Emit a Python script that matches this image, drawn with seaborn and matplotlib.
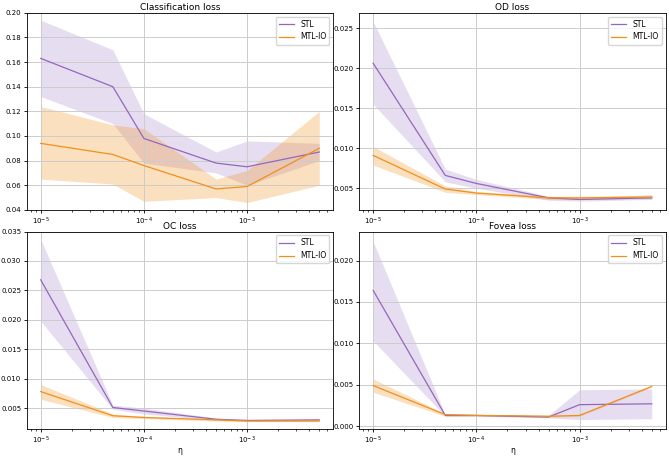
import numpy as np
import pandas as pd
import seaborn as sns
import matplotlib
matplotlib.use('Agg')
import matplotlib.pyplot as plt

eta = [1e-5, 5e-5, 1e-4, 5e-4, 1e-3, 5e-3]

# classification loss
cls_stl = [0.163, 0.140, 0.098, 0.078, 0.075, 0.087]
cls_stl_lo = [0.132, 0.110, 0.078, 0.070, 0.060, 0.080]
cls_stl_hi = [0.194, 0.170, 0.118, 0.087, 0.096, 0.094]
cls_mtl = [0.094, 0.085, 0.076, 0.057, 0.059, 0.090]
cls_mtl_lo = [0.065, 0.061, 0.047, 0.050, 0.046, 0.060]
cls_mtl_hi = [0.124, 0.109, 0.106, 0.065, 0.072, 0.120]

# OD loss
od_stl = [0.0206, 0.0066, 0.0056, 0.0038, 0.0036, 0.0038]
od_stl_lo = [0.0155, 0.0058, 0.0050, 0.0035, 0.0034, 0.0036]
od_stl_hi = [0.0258, 0.0074, 0.0061, 0.0040, 0.0038, 0.0042]
od_mtl = [0.0091, 0.0049, 0.0044, 0.0038, 0.0038, 0.0039]
od_mtl_lo = [0.0079, 0.0045, 0.0042, 0.0036, 0.0036, 0.0037]
od_mtl_hi = [0.0102, 0.0053, 0.0046, 0.0040, 0.0040, 0.0041]

# OC loss
oc_stl = [0.0268, 0.0051, 0.0045, 0.0031, 0.0029, 0.0030]
oc_stl_lo = [0.0198, 0.0048, 0.0040, 0.0029, 0.0028, 0.0029]
oc_stl_hi = [0.0337, 0.0055, 0.0050, 0.0033, 0.0030, 0.0031]
oc_mtl = [0.0078, 0.0037, 0.0034, 0.0030, 0.0028, 0.0028]
oc_mtl_lo = [0.0065, 0.0034, 0.0032, 0.0028, 0.0027, 0.0027]
oc_mtl_hi = [0.0090, 0.0040, 0.0036, 0.0031, 0.0030, 0.0029]

# fovea loss
fov_stl = [0.0164, 0.0013, 0.0013, 0.0011, 0.0026, 0.0027]
fov_stl_lo = [0.0103, 0.0012, 0.0012, 0.0010, 0.0008, 0.0009]
fov_stl_hi = [0.0223, 0.0014, 0.0014, 0.0013, 0.0044, 0.0045]
fov_mtl = [0.0049, 0.0014, 0.0013, 0.0012, 0.0013, 0.0048]
fov_mtl_lo = [0.0041, 0.0012, 0.0012, 0.0011, 0.0012, 0.0047]
fov_mtl_hi = [0.0057, 0.0015, 0.0014, 0.0013, 0.0014, 0.0049]

panels = [
    ('Classification loss', cls_stl, cls_stl_lo, cls_stl_hi, cls_mtl, cls_mtl_lo, cls_mtl_hi),
    ('OD loss', od_stl, od_stl_lo, od_stl_hi, od_mtl, od_mtl_lo, od_mtl_hi),
    ('OC loss', oc_stl, oc_stl_lo, oc_stl_hi, oc_mtl, oc_mtl_lo, oc_mtl_hi),
    ('Fovea loss', fov_stl, fov_stl_lo, fov_stl_hi, fov_mtl, fov_mtl_lo, fov_mtl_hi),
]

c_stl = '#9467bd'
c_mtl = '#f0901a'

plt.rcParams['font.size'] = 5
plt.rcParams['axes.linewidth'] = 0.6

fig, axes = plt.subplots(2, 2, figsize=(6.69, 4.57), dpi=100)
fig.subplots_adjust(left=0.04, right=0.995, top=0.972, bottom=0.062, wspace=0.085, hspace=0.11)

for i, (title, s, slo, shi, m, mlo, mhi) in enumerate(panels):
    ax = axes.flat[i]
    df = pd.DataFrame({'eta': eta * 2, 'loss': s + m,
                       'model': ['STL'] * 6 + ['MTL-IO'] * 6})
    sns.lineplot(data=df, x='eta', y='loss', hue='model',
                 palette={'STL': c_stl, 'MTL-IO': c_mtl}, ax=ax, linewidth=0.9)
    ax.fill_between(eta, slo, shi, color=c_stl, alpha=0.22, linewidth=0)
    ax.fill_between(eta, mlo, mhi, color=c_mtl, alpha=0.28, linewidth=0)
    ax.set_xscale('log')
    ax.set_title(title, pad=2, fontsize=6.5)
    ax.grid(True, color='#cccccc', linewidth=0.7)
    ax.tick_params(labelsize=5, length=2.5, width=0.6, pad=1.5)
    ax.tick_params(which='minor', length=1.5, width=0.5)
    ax.set_ylabel('')
    ax.set_xlabel('η' if i >= 2 else '', labelpad=0, fontsize=5.5)
    ax.legend(loc='upper right', fontsize=5.5, frameon=True)

axes[0, 0].set_yticks(np.arange(0.04, 0.201, 0.02))
axes[0, 1].set_yticks(np.arange(0.005, 0.0251, 0.005))
axes[1, 0].set_yticks(np.arange(0.005, 0.0351, 0.005))
axes[1, 1].set_yticks(np.arange(0.0, 0.0201, 0.005))
axes[0, 0].set_ylim(0.04, 0.2)
axes[0, 1].set_ylim(0.0023, 0.0269)
axes[1, 0].set_ylim(0.0015, 0.035)
axes[1, 1].set_ylim(-0.0003, 0.0235)

fig.savefig('out.png', dpi=100)
